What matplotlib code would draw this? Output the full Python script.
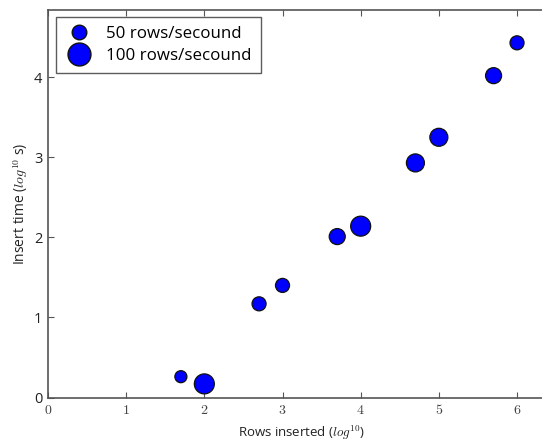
import matplotlib
matplotlib.use("Agg")
import matplotlib.pyplot as plt
from matplotlib.lines import Line2D

plt.rcParams['mathtext.fontset'] = 'cm'
plt.rcParams['font.family'] = ['Open Sans', 'DejaVu Sans']

# Data
x50 = [1.7, 2.7, 3.7, 4.7, 5.7]
y50 = [0.26, 1.17, 2.01, 2.93, 4.02]
s50 = [75, 102, 133, 168, 133]
x100 = [2.0, 3.0, 4.0, 5.0, 6.0]
y100 = [0.17, 1.40, 2.14, 3.25, 4.43]
s100 = [207, 102, 207, 168, 102]
labels = ["50 rows/secound", "100 rows/secound"]
xticks = [0, 1, 2, 3, 4, 5, 6]
yticks = [0, 1, 2, 3, 4]

fig = plt.figure(figsize=(5.42, 4.42), dpi=100)
ax = fig.add_axes([48/542, 1-397.5/442, (6.5*78.17)/542, (397.5-10)/442])

ax.scatter(x50, y50, s=s50, c='blue', edgecolors='#111111', linewidths=0.9, zorder=3)
ax.scatter(x100, y100, s=s100, c='blue', edgecolors='#111111', linewidths=0.9, zorder=3)

ax.set_xlim(0, 6.5)
ax.set_ylim(0, 4.84)
ax.set_xticks(xticks)
ax.set_xticklabels([f"${t}$" for t in xticks], fontsize=10, color='#444444')
ax.set_yticks(yticks)
ax.set_yticklabels([str(t) for t in yticks], fontsize=10.5, color='#222222')
ax.tick_params(direction='in', top=True, right=True, length=4, color='#555555', pad=4)
for sp in ax.spines.values():
    sp.set_color('#555555')
    sp.set_linewidth(1.2)

ax.set_xlabel("Rows inserted ($log^{10}$)", fontsize=9.5, color='#222222', labelpad=4)
ax.set_ylabel("Insert time ($log^{10}$ s)", fontsize=10, color='#222222', labelpad=3)

handles = [
    Line2D([], [], marker='o', linestyle='none', markersize=10.5, markerfacecolor='blue', markeredgecolor='#111111'),
    Line2D([], [], marker='o', linestyle='none', markersize=16.5, markerfacecolor='blue', markeredgecolor='#111111'),
]
leg = ax.legend(handles, labels, loc='upper left', bbox_to_anchor=(8/ (6.5*78.17), 1-7/387.5),
                fontsize=12.2, frameon=True, fancybox=False, borderaxespad=0,
                handlelength=1.6, handletextpad=0.8, labelspacing=0.33, borderpad=0.55)
leg.get_frame().set_edgecolor('#333333')
leg.get_frame().set_linewidth(1.0)

fig.savefig("out.png", dpi=100)
